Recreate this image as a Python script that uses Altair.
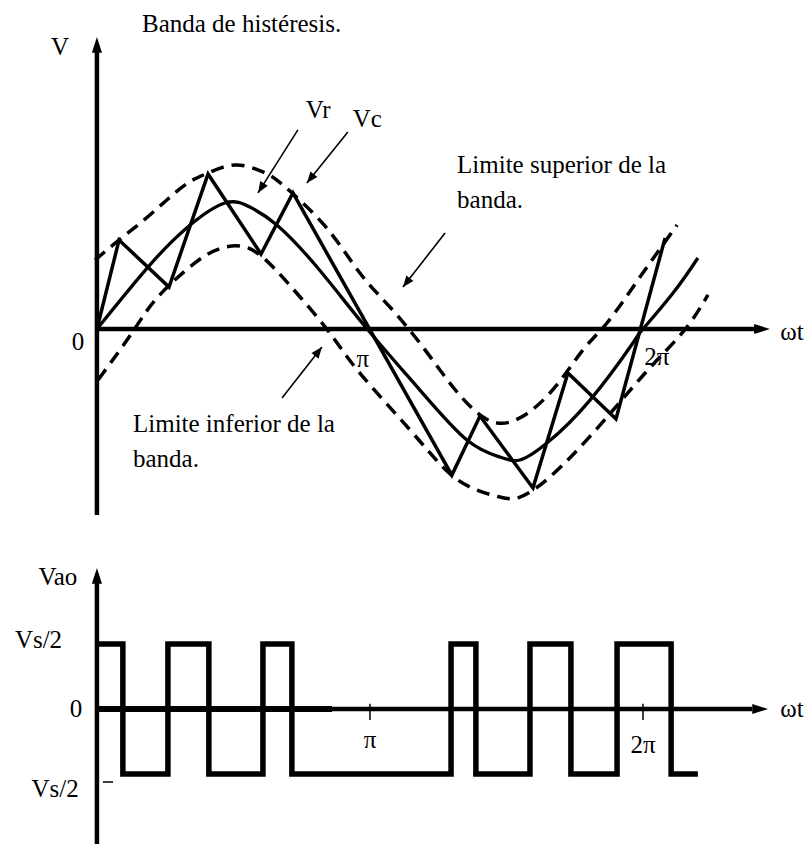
import math
import altair as alt
import pandas as pd

# ---------------- data (x in units of pi, y in units of the reference amplitude) -------------
# reference current Vr (solid sine)
vr_x = [0.0, 0.187, 0.333, 0.469, 0.560, 0.659, 0.806, 0.99, 1.183, 1.355, 1.476, 1.549, 1.648, 1.806, 1.963, 2.0, 2.110, 2.201]
vr_y = [0.0, 0.484, 0.797, 0.984, 0.953, 0.813, 0.484, 0.0, -0.477, -0.867, -1.0, -1.023, -0.891, -0.555, -0.109, 0.0, 0.281, 0.555]

# upper band limit (dashed)
up_x = [-0.007, 0.077, 0.168, 0.256, 0.333, 0.407, 0.509, 0.608, 0.681, 0.835, 0.963, 1.073, 1.194, 1.304, 1.414, 1.524, 1.659, 1.780, 1.868, 1.989, 2.125]
up_y = [0.539, 0.688, 0.844, 1.008, 1.141, 1.219, 1.281, 1.227, 1.125, 0.805, 0.4375, 0.172, -0.141, -0.453, -0.6875, -0.719, -0.5, -0.164, 0.047, 0.406, 0.8125]

# lower band limit (dashed)
lo_x = [0.004, 0.128, 0.223, 0.359, 0.458, 0.553, 0.645, 0.744, 0.853, 0.963, 1.147, 1.267, 1.366, 1.476, 1.549, 1.659, 1.817, 1.963, 2.062, 2.161, 2.238]
lo_y = [-0.398, -0.031, 0.25, 0.516, 0.633, 0.633, 0.484, 0.25, -0.031, -0.344, -0.789, -1.078, -1.234, -1.3125, -1.3125, -1.156, -0.8125, -0.453, -0.219, 0.016, 0.266]

# actual current Vc (zig-zag)
vc_x = [0.0, 0.081, 0.264, 0.407, 0.601, 0.718, 1.300, 1.403, 1.597, 1.725, 1.901, 2.081]
vc_y = [0.0, 0.695, 0.328, 1.211, 0.586, 1.0625, -1.141, -0.680, -1.242, -0.344, -0.703, 0.711]

# output voltage Vao (switching instants, level in units of Vs/2)
sw_x = [0.0, 0.095, 0.260, 0.410, 0.608, 0.714, 1.297, 1.388, 1.586, 1.736, 1.905, 2.103, 2.201]
sw_v = [1, -1, 1, -1, 1, -1, 1, -1, 1, -1, 1, -1, -1]

tick_pos = [1.0, 2.0]
tick_lab = ["\u03c0", "2\u03c0"]

# ---------------- layout ----------------
W, H_TOP, H_BOT = 809, 540, 304
X_DOM = [-0.355, 2.608]
TOP_DOM = [-1.648, 2.570]
BOT_DOM = [-2.077, 2.6]
FONT = "Liberation Serif"
FS = 25

px_x = W / (X_DOM[1] - X_DOM[0])
px_top = H_TOP / (TOP_DOM[1] - TOP_DOM[0])
px_bot = H_BOT / (BOT_DOM[1] - BOT_DOM[0])

xs = alt.Scale(domain=X_DOM, nice=False, zero=False)
ys_top = alt.Scale(domain=TOP_DOM, nice=False, zero=False)
ys_bot = alt.Scale(domain=BOT_DOM, nice=False, zero=False)

HEAD = "M0,0L0.4,1L-0.4,1Z"       # arrow head, tip at origin, pointing up
AXHEAD = "M0,0L0.32,1L-0.32,1Z"


def X(f="x"):
    return alt.X(f"{f}:Q", scale=xs, axis=None)


def Y(ys, f="y"):
    return alt.Y(f"{f}:Q", scale=ys, axis=None)


def curve(xv, yv, ys, **kw):
    df = pd.DataFrame({"x": xv, "y": yv})
    return alt.Chart(df).mark_line(color="black", **kw).encode(x=X(), y=Y(ys))


def rules(rows, ys, width):
    df = pd.DataFrame(rows, columns=["x", "x2", "y", "y2"])
    return alt.Chart(df).mark_rule(color="black", strokeWidth=width).encode(
        x=X(), x2="x2:Q", y=Y(ys), y2="y2:Q")


def heads(rows, ys, path, size):
    df = pd.DataFrame(rows, columns=["x", "y", "ang"])
    return alt.Chart(df).mark_point(shape=path, filled=True, color="black", opacity=1,
                                    size=size, strokeWidth=0).encode(
        x=X(), y=Y(ys), angle=alt.Angle("ang:Q", scale=None))


def texts(rows, ys, align="center", size=FS):
    df = pd.DataFrame(rows, columns=["x", "y", "t"])
    return alt.Chart(df).mark_text(font=FONT, fontSize=size, color="black", align=align,
                                   baseline="alphabetic").encode(x=X(), y=Y(ys), text="t:N")


def angle(x0, y0, x1, y1, pxy):
    a = math.degrees(math.atan2((x1 - x0) * px_x, (y1 - y0) * pxy))
    return a % 360


# ---------------- top panel ----------------
ann = [  # annotation arrows: start -> end (head at end)
    (0.736, 1.555, 0.590, 1.063),
    (0.919, 1.539, 0.769, 1.141),
    (1.275, 0.750, 1.121, 0.328),
    (0.678, -0.539, 0.824, -0.141),
]
ann_rules = rules([(a, c, b, d) for a, b, c, d in ann], ys_top, 1.6)
ann_heads = heads([(c, d, angle(a, b, c, d, px_top)) for a, b, c, d in ann], ys_top, HEAD, 500)

top_axes = rules([(0.0, 0.0, -1.453, 2.20), (0.0, 2.42, 0.0, 0.0)], ys_top, 4.5)
top_heads = heads([(0.0, 2.281, 0.0), (2.465, 0.0, 90.0)], ys_top, AXHEAD, 1000)

top_center = texts([
    (-0.1355, 2.14, "V"),
    (-0.0696, -0.164, "0"),
    (0.81, 1.648, "Vr"),
    (0.99, 1.578, "Vc"),
    (tick_pos[0] - 0.026, -0.297, tick_lab[0]),
    (tick_pos[1] + 0.051, -0.281, tick_lab[1]),
    (2.546, -0.086, "\u03c9t"),
], ys_top)
top_left = texts([
    (0.165, 2.323, "Banda de histéresis."),
    (1.319, 1.219, "Limite superior de la"),
    (1.319, 0.945, "banda."),
    (0.132, -0.802, "Limite inferior de la"),
    (0.132, -1.076, "banda."),
], ys_top, align="left")

top = alt.layer(
    curve(up_x, up_y, ys_top, strokeWidth=3.5, strokeDash=[13, 8], interpolate="natural"),
    curve(lo_x, lo_y, ys_top, strokeWidth=3.5, strokeDash=[13, 8], interpolate="natural"),
    curve(vr_x, vr_y, ys_top, strokeWidth=3.3, interpolate="natural"),
    curve(vc_x, vc_y, ys_top, strokeWidth=3.5, strokeJoin="miter"),
    top_axes, top_heads, ann_rules, ann_heads, top_center, top_left,
).properties(width=W, height=H_TOP)

# ---------------- bottom panel ----------------
bot_axes = rules([(0.0, 0.0, BOT_DOM[0], 2.05), (0.0, 2.40, 0.0, 0.0)], ys_bot, 4.5)
bot_thick = rules([(0.0, 0.861, 0.0, 0.0)], ys_bot, 6)
bot_small = rules([(0.022, 0.059, -1.123, -1.123)], ys_bot, 1.5)
bot_ticks = rules([(p, p, 0.08, -0.17) for p in tick_pos], ys_bot, 1.5)
bot_heads = heads([(0.0, 2.169, 0.0), (2.458, 0.0, 90.0)], ys_bot, AXHEAD, 1000)

bot_center = texts([
    (-0.143, 1.908, "Vao"),
    (-0.214, 0.938, "Vs/2"),
    (-0.077, -0.123, "0"),
    (-0.153, -1.354, "Vs/2"),
    (tick_pos[0], -0.60, tick_lab[0]),
    (tick_pos[1], -0.677, tick_lab[1]),
    (2.546, -0.123, "\u03c9t"),
], ys_bot)

square = alt.Chart(pd.DataFrame({"x": sw_x, "y": sw_v})).mark_line(
    color="black", strokeWidth=5.5, interpolate="step-after", strokeJoin="miter"
).encode(x=X(), y=Y(ys_bot))

bottom = alt.layer(
    bot_axes, bot_thick, bot_small, bot_ticks, square, bot_heads, bot_center
).properties(width=W, height=H_BOT)

chart = alt.vconcat(top, bottom, spacing=0, bounds="flush").properties(
    padding=0, background="white"
).configure_view(stroke=None)

chart.save("out.html", embed_options={"renderer": "svg", "actions": False})
